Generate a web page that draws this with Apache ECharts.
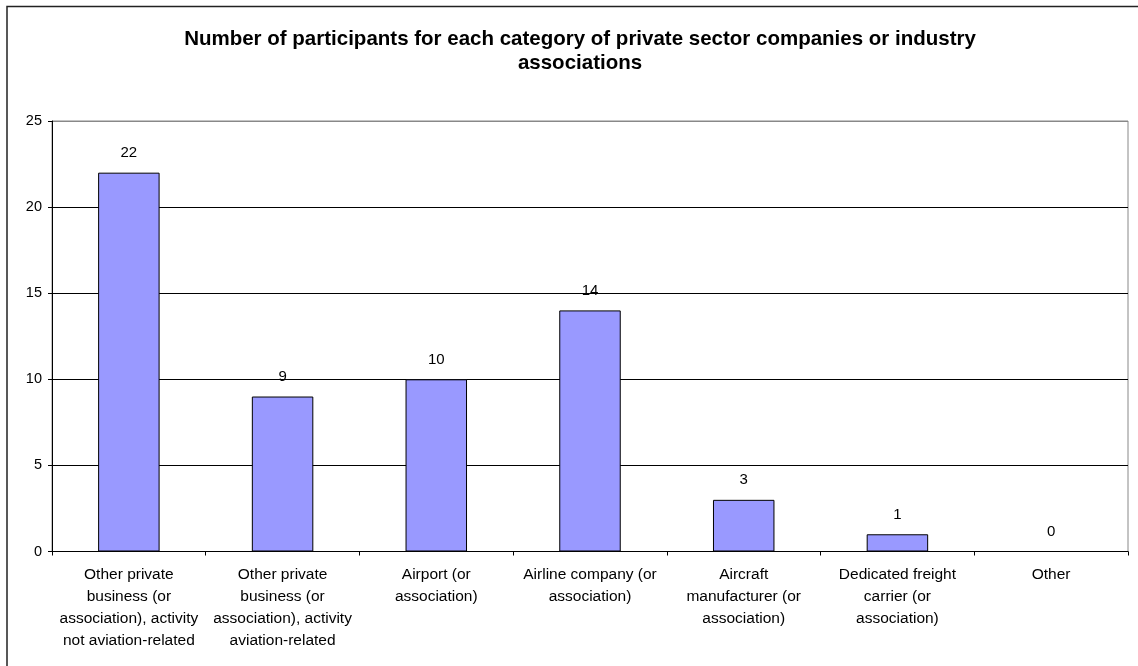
<!DOCTYPE html>
<html>
<head>
<meta charset="utf-8">
<script src="https://cdn.jsdelivr.net/npm/echarts@6/dist/echarts.min.js"></script>
<style>
  html, body { margin: 0; padding: 0; background: #fff; }
  #chart { width: 1138px; height: 666px; }
</style>
</head>
<body>
<div id="chart"></div>
<script>
var categories = [
  'Other private\nbusiness (or\nassociation), activity\nnot aviation-related',
  'Other private\nbusiness (or\nassociation), activity\naviation-related',
  'Airport (or\nassociation)',
  'Airline company (or\nassociation)',
  'Aircraft\nmanufacturer (or\nassociation)',
  'Dedicated freight\ncarrier (or\nassociation)',
  'Other'
]
var participants = [22, 9, 10, 14, 3, 1, 0]
var yTicks = { min: 0, max: 25, interval: 5 }

var font = '"Liberation Sans", Arial, sans-serif'

var chart = echarts.init(document.getElementById('chart'))
chart.setOption({
  animation: false,
  textStyle: { fontFamily: font },
  title: {
    text: 'Number of participants for each category of private sector companies or industry\nassociations',
    left: 575,
    top: 22,
    textAlign: 'center',
    textStyle: { fontSize: 20.5, fontWeight: 'bold', color: '#000', lineHeight: 24, fontFamily: font }
  },
  graphic: [{
    type: 'rect',
    shape: { x: 7, y: 6.5, width: 1200, height: 700 },
    style: { fill: null, stroke: '#222', lineWidth: 1.5 },
    silent: true
  }],
  grid: {
    left: 52,
    right: 10,
    top: 121,
    bottom: 114.5,
    show: true,
    borderColor: '#888',
    borderWidth: 1,
    backgroundColor: 'transparent'
  },
  xAxis: {
    type: 'category',
    data: categories,
    axisLine: { lineStyle: { color: '#000', width: 1 } },
    axisTick: { show: true, length: 4, lineStyle: { color: '#000' } },
    axisLabel: {
      interval: 0,
      color: '#000',
      fontSize: 15.5,
      lineHeight: 22,
      margin: 12,
      fontFamily: font
    }
  },
  yAxis: {
    type: 'value',
    min: yTicks.min,
    max: yTicks.max,
    interval: yTicks.interval,
    axisLine: { show: true, lineStyle: { color: '#000', width: 1 } },
    axisTick: { show: true, length: 4, lineStyle: { color: '#000' } },
    axisLabel: { color: '#000', fontSize: 14.5, margin: 10, fontFamily: font },
    splitLine: { show: true, lineStyle: { color: ['#000', '#000', '#000', '#000', '#000', '#888'], width: 1 } }
  },
  series: [{
    type: 'bar',
    data: participants,
    barWidth: '40%',
    itemStyle: { color: '#9999FF', borderColor: '#000', borderWidth: 1 },
    label: {
      show: true,
      position: 'top',
      distance: 12,
      color: '#000',
      fontSize: 15,
      fontFamily: font
    }
  }]
})
</script>
</body>
</html>
